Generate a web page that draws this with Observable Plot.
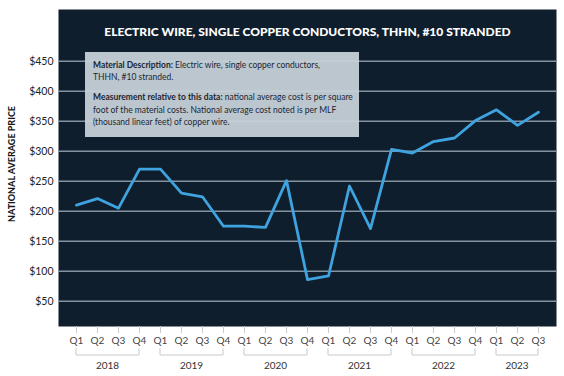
<!DOCTYPE html>
<html><head><meta charset="utf-8">
<script src="https://cdn.jsdelivr.net/npm/d3@7"></script>
<script src="https://cdn.jsdelivr.net/npm/@observablehq/plot@0.6"></script>
<style>
body{margin:0;background:#fff;}
#wrap{position:relative;width:564px;height:376px;font-family:Lato,sans-serif;}
#wrap svg{display:block;}
#box{position:absolute;left:85px;top:52px;width:274px;height:85px;box-sizing:border-box;background:rgba(200,211,220,0.93);padding:7px 8px;font-size:8.5px;line-height:12.3px;color:#1b2631;white-space:nowrap;overflow:hidden;}
#box p{margin:0 0 7.7px 0;}
#box b{font-weight:700;}
</style></head><body>
<div id="wrap"><div id="box"><p><b>Material Description:</b> Electric wire, single copper conductors,<br>THHN, #10 stranded.</p><p><b>Measurement relative to this data:</b> national average cost is per square<br>foot of the material costs. National average cost noted is per MLF<br>(thousand linear feet) of copper wire.</p></div></div>
<script>
const years = [2018, 2019, 2020, 2021, 2022, 2023];
const quarterNames = ["Q1", "Q2", "Q3", "Q4"];
const quarterCount = [4, 4, 4, 4, 4, 3];
const prices = [210, 221, 205, 270, 270, 230, 224, 175, 175, 173, 251, 86, 92, 242, 171, 303, 297, 316, 322, 351, 369, 343, 365];
const yTicks = [50, 100, 150, 200, 250, 300, 350, 400, 450];
const title = "ELECTRIC WIRE, SINGLE COPPER CONDUCTORS, THHN, #10 STRANDED";
const yLabel = "NATIONAL AVERAGE PRICE";

const keys = [];
years.forEach((y, i) => { for (let q = 0; q < quarterCount[i]; q++) keys.push(`${y} ${quarterNames[q]}`); });
const data = keys.map((k, i) => ({key: k, price: prices[i]}));

const W = 564, H = 376, MB = 50;
const plot = Plot.plot({
  width: W, height: H, marginLeft: 58, marginRight: 8, marginTop: 9, marginBottom: MB,
  style: {fontFamily: "Lato, sans-serif", background: "transparent", overflow: "visible"},
  x: {type: "point", domain: keys, padding: 0.44},
  y: {domain: [7.8, 536.2]},
  marks: [
    Plot.frame({fill: "#0f1e2d", stroke: "none"}),
    Plot.ruleY(yTicks, {stroke: "#8593a1", strokeWidth: 1.5}),
    Plot.line(data, {x: "key", y: "price", stroke: "#3ea3de", strokeWidth: 2.8}),
    Plot.axisY(yTicks, {tickSize: 0, tickPadding: 5, tickFormat: d => "$" + d, fontSize: 10.5, fill: "#222", label: null}),
    Plot.axisX({tickSize: 7, tickPadding: 3, stroke: "#c9c9c9", fill: "#444", fontSize: 10, tickFormat: k => k.split(" ")[1], label: null}),
    Plot.text([title], {frameAnchor: "top", lineAnchor: "middle", dy: 23, fill: "#fff", fontSize: 12, fontWeight: 900}),
    Plot.text([yLabel], {frameAnchor: "left", textAnchor: "middle", rotate: -90, dx: -46, dy: -4, fontSize: 9, fontWeight: 900, fill: "#1a1a1a"})
  ]
});

const wrap = document.getElementById("wrap");
wrap.insertBefore(plot, document.getElementById("box"));
const svg = d3.select(plot.tagName.toLowerCase() === "svg" ? plot : plot.querySelector("svg"));
const sx = plot.scale("x");
const bottom = H - MB;
const g = svg.append("g");
let idx = 0;
years.forEach((yr, i) => {
  const first = keys[idx], last = keys[idx + quarterCount[i] - 1];
  idx += quarterCount[i];
  const x1 = sx.apply(first), x2 = sx.apply(last);
  g.append("path").attr("d", `M${x1},${bottom + 22.3}V${bottom + 29}H${x2}V${bottom + 22.3}`)
    .attr("fill", "none").attr("stroke", "#c9c9c9").attr("stroke-width", 1);
  g.append("text").attr("x", (x1 + x2) / 2).attr("y", bottom + 39).attr("dy", "0.35em")
    .attr("text-anchor", "middle").attr("font-size", 10).attr("fill", "#333").text(yr);
});
</script>
</body></html>
